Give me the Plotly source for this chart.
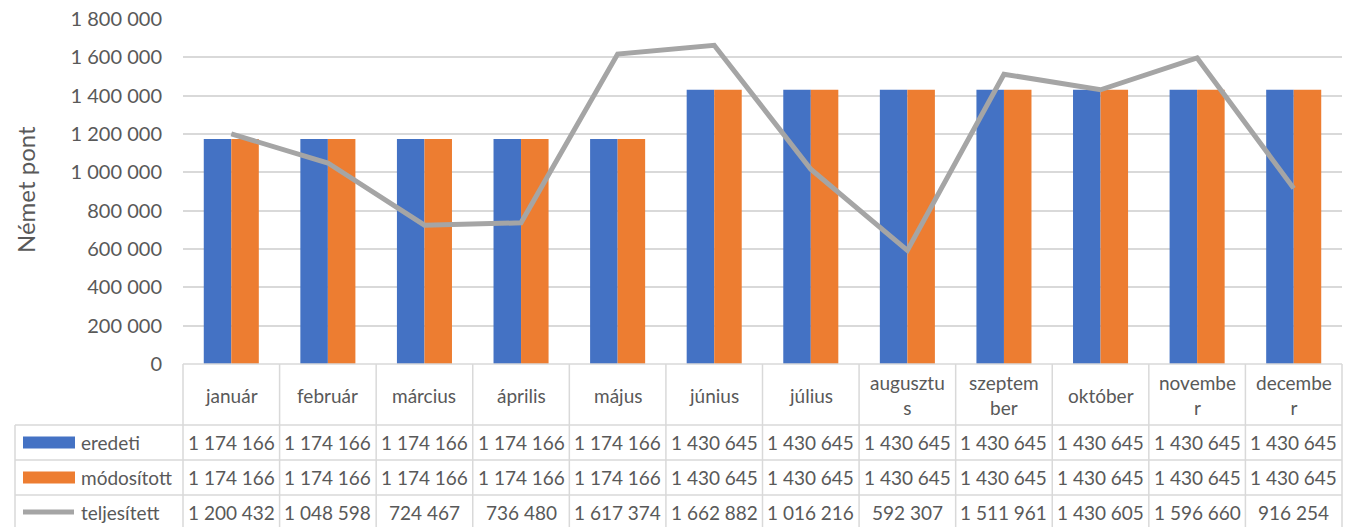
import plotly.graph_objects as go

months = ["január", "február", "március", "április", "május", "június",
          "július", "augusztus", "szeptember", "október", "november", "december"]
month_labels = ["január", "február", "március", "április", "május", "június",
                "július", "augusztu<br>s", "szeptem<br>ber", "október", "novembe<br>r", "decembe<br>r"]
eredeti = [1174166, 1174166, 1174166, 1174166, 1174166, 1430645,
           1430645, 1430645, 1430645, 1430645, 1430645, 1430645]
modositott = [1174166, 1174166, 1174166, 1174166, 1174166, 1430645,
              1430645, 1430645, 1430645, 1430645, 1430645, 1430645]
teljesitett = [1200432, 1048598, 724467, 736480, 1617374, 1662882,
               1016216, 592307, 1511961, 1430605, 1596660, 916254]
series_names = ["eredeti", "módosított", "teljesített"]
y_ticks = [0, 200000, 400000, 600000, 800000, 1000000, 1200000, 1400000, 1600000, 1800000]

BLUE = "#4472C4"
ORANGE = "#ED7D31"
GRAY = "#A5A5A5"
GRID = "#D9D9D9"
TXT = "#595959"
FONT = "Lato"

W, H = 1355, 527
L, R, T, B = 183, 1342, 19, 364


def fmt(v):
    return f"{v:,}".replace(",", " ")


def px(x):
    return (x - L) / (R - L)


def py(y):
    return (B - y) / (B - T)


fig = go.Figure()
fig.add_trace(go.Bar(x=months, y=eredeti, name=series_names[0], marker_color=BLUE,
                     marker_line_width=0))
fig.add_trace(go.Bar(x=months, y=modositott, name=series_names[1], marker_color=ORANGE,
                     marker_line_width=0))
fig.add_trace(go.Scatter(x=months, y=teljesitett, name=series_names[2], mode="lines",
                         line=dict(color=GRAY, width=5)))

shapes = []
annotations = []
n = len(months)
cw = (R - L) / n
rows_y = [364, 425, 460, 495, 530]
line_style = dict(color=GRID, width=1.5)

shapes.append(dict(type="line", xref="paper", yref="paper", x0=px(L), x1=px(R),
                   y0=py(364), y1=py(364), line=line_style))
for yy in rows_y[1:]:
    shapes.append(dict(type="line", xref="paper", yref="paper", x0=px(15), x1=px(R),
                       y0=py(yy), y1=py(yy), line=line_style))
for i in range(n + 1):
    xx = L + i * cw
    shapes.append(dict(type="line", xref="paper", yref="paper", x0=px(xx), x1=px(xx),
                       y0=py(364), y1=py(530), line=line_style))
shapes.append(dict(type="line", xref="paper", yref="paper", x0=px(15), x1=px(15),
                   y0=py(425), y1=py(530), line=line_style))

for i, lab in enumerate(month_labels):
    annotations.append(dict(xref="paper", yref="paper", x=px(L + (i + 0.5) * cw), y=py(395),
                            text=lab, showarrow=False, xanchor="center", yanchor="middle",
                            font=dict(family=FONT, size=19, color=TXT)))

data_rows = [eredeti, modositott, teljesitett]
for r, (name, vals) in enumerate(zip(series_names, data_rows)):
    yc = (rows_y[r + 1] + rows_y[r + 2]) / 2
    annotations.append(dict(xref="paper", yref="paper", x=px(79), y=py(yc), text=name,
                            showarrow=False, xanchor="left", yanchor="middle",
                            font=dict(family=FONT, size=19, color=TXT)))
    for i, v in enumerate(vals):
        annotations.append(dict(xref="paper", yref="paper", x=px(L + (i + 0.5) * cw), y=py(yc),
                                text=fmt(v), showarrow=False, xanchor="center", yanchor="middle",
                                font=dict(family=FONT, size=19, color=TXT)))

for r, col in enumerate([BLUE, ORANGE]):
    yc = (rows_y[r + 1] + rows_y[r + 2]) / 2
    shapes.append(dict(type="rect", xref="paper", yref="paper", x0=px(23), x1=px(75),
                       y0=py(yc - 6), y1=py(yc + 6), fillcolor=col, line=dict(width=0)))
yc = (rows_y[3] + rows_y[4]) / 2 - 0.5
shapes.append(dict(type="line", xref="paper", yref="paper", x0=px(23), x1=px(74),
                   y0=py(yc), y1=py(yc), line=dict(color=GRAY, width=5)))

annotations.append(dict(xref="paper", yref="paper", x=px(25), y=py(190), text="Német pont",
                        textangle=-90, showarrow=False, xanchor="center", yanchor="middle",
                        font=dict(family=FONT, size=24, color=TXT)))

fig.update_layout(
    width=W, height=H,
    margin=dict(l=L, r=W - R, t=T, b=H - B, pad=0, autoexpand=False),
    paper_bgcolor="white", plot_bgcolor="white",
    barmode="group", bargap=0.43, bargroupgap=0,
    showlegend=False,
    separators=", ",
    shapes=shapes, annotations=annotations,
    xaxis=dict(type="category", range=[-0.5, n - 0.5], showticklabels=False,
               showgrid=False, zeroline=False, showline=False, ticks="", automargin=False),
    yaxis=dict(range=[0, 1800000], tickvals=y_ticks, tickformat=",d",
               showgrid=True, gridcolor=GRID, gridwidth=1.5, zeroline=False,
               showline=False, ticks="", ticklabelstandoff=20, automargin=False,
               tickfont=dict(family=FONT, size=20, color=TXT)),
)

fig.write_html("out.html", config={"displayModeBar": False},
               post_script="document.body.style.margin='0';document.body.style.overflow='hidden';")
